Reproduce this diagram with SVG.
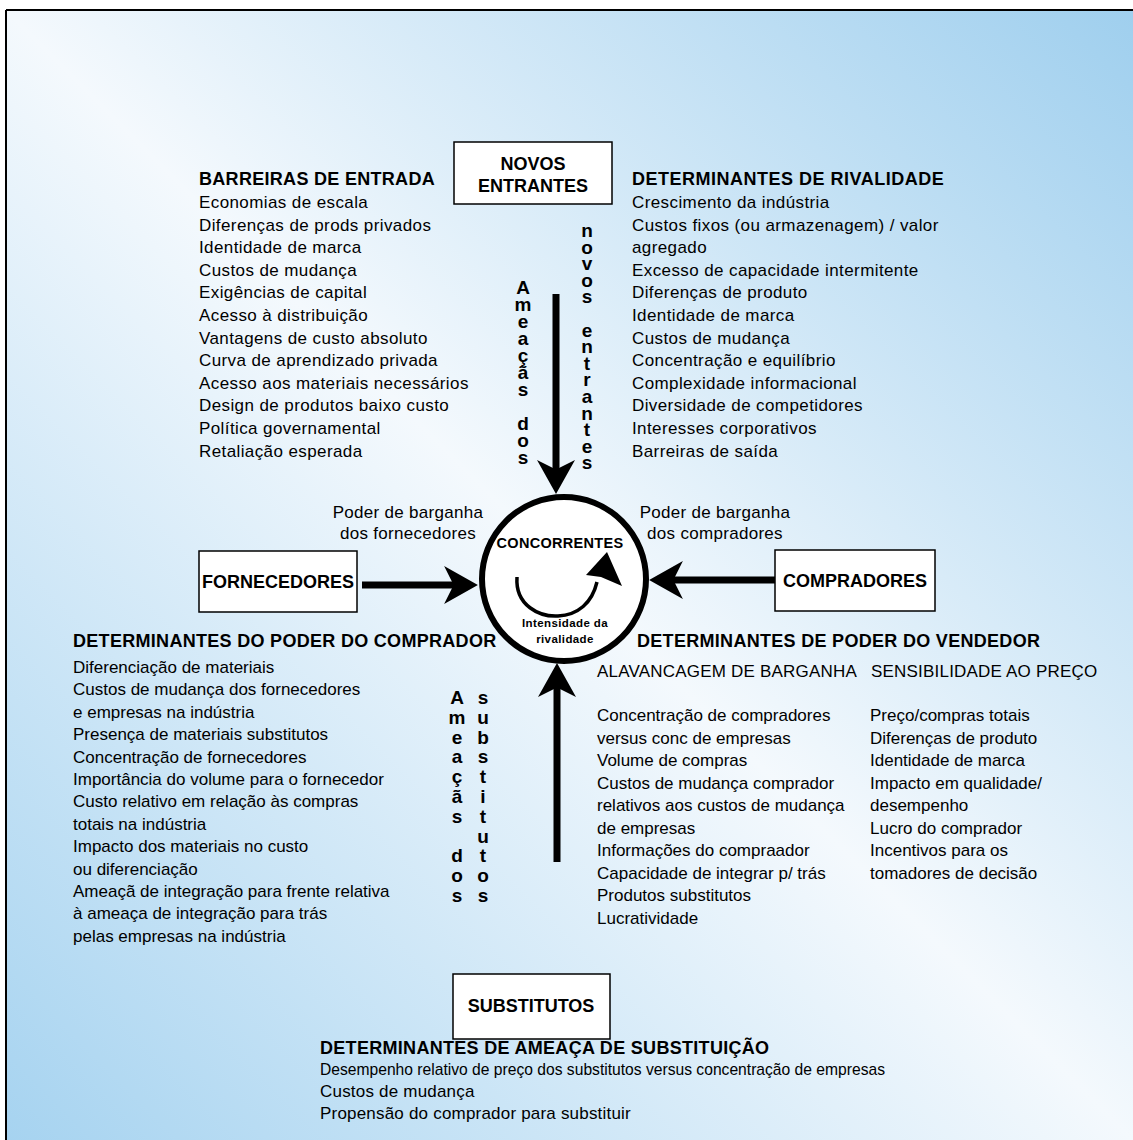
<svg xmlns="http://www.w3.org/2000/svg" width="1133" height="1140" viewBox="0 0 1133 1140">
<defs>
<linearGradient id="bg" x1="0" y1="1" x2="1" y2="0">
<stop offset="0" stop-color="#a6d3f0"/>
<stop offset="0.5" stop-color="#f4f9fd"/>
<stop offset="1" stop-color="#9fcfee"/>
</linearGradient>
<marker id="head" markerUnits="userSpaceOnUse" markerWidth="34" markerHeight="38" viewBox="0 0 32 36" refX="16" refY="18" orient="auto">
<path d="M0,0 L32,18 L0,36 L9,18 Z" fill="#000"/>
</marker>
<style>
.hd{font-family:"Liberation Sans",Arial,sans-serif;font-weight:bold;font-size:18px;letter-spacing:0.3px;fill:#000}
.tx{font-family:"Liberation Sans",Arial,sans-serif;font-size:17px;letter-spacing:0.2px;fill:#000}
.vt{font-family:"Liberation Sans",Arial,sans-serif;font-weight:bold;font-size:19px;writing-mode:vertical-rl;text-orientation:upright;fill:#000}
.bx{fill:#fff;stroke:#000;stroke-width:1.5}
.bt{font-family:"Liberation Sans",Arial,sans-serif;font-weight:bold;font-size:18px;text-anchor:middle;fill:#000}
.ctr{text-anchor:middle}
.arrow{fill:none;stroke:#000;stroke-width:7;marker-end:url(#head)}
</style>
</defs>

<g id="background">
<rect x="0" y="0" width="1133" height="1140" fill="#fff"/>
<rect x="6" y="10" width="1127" height="1130" fill="url(#bg)"/>
<path d="M6,10 H1133 M6,10 V1140" stroke="#000" stroke-width="2" fill="none"/>
</g>

<g id="connectors">
<path class="arrow" d="M556,294 V477"/>
<path class="arrow" d="M362,585 H461"/>
<path class="arrow" d="M775,580 H666"/>
<path class="arrow" d="M557,862 V680"/>
</g>

<g id="node-novos-entrantes">
<rect class="bx" x="454" y="142" width="158" height="62"/>
<text class="bt" x="533" y="170">NOVOS</text>
<text class="bt" x="533" y="192">ENTRANTES</text>
</g>

<g id="barreiras-entrada">
<text class="hd" x="199" y="185">BARREIRAS DE ENTRADA</text>
<text class="tx" x="199" y="208" style="letter-spacing:0.4px">
<tspan x="199" y="208">Economias de escala</tspan>
<tspan x="199" dy="22.6">Diferenças de prods privados</tspan>
<tspan x="199" dy="22.6">Identidade de marca</tspan>
<tspan x="199" dy="22.6">Custos de mudança</tspan>
<tspan x="199" dy="22.6">Exigências de capital</tspan>
<tspan x="199" dy="22.6">Acesso à distribuição</tspan>
<tspan x="199" dy="22.6">Vantagens de custo absoluto</tspan>
<tspan x="199" dy="22.6">Curva de aprendizado privada</tspan>
<tspan x="199" dy="22.6">Acesso aos materiais necessários</tspan>
<tspan x="199" dy="22.6">Design de produtos baixo custo</tspan>
<tspan x="199" dy="22.6">Política governamental</tspan>
<tspan x="199" dy="22.6">Retaliação esperada</tspan>
</text>
</g>

<g id="determinantes-rivalidade">
<text class="hd" x="632" y="185" style="letter-spacing:0.5px">DETERMINANTES DE RIVALIDADE</text>
<text class="tx" x="632" y="208" style="letter-spacing:0.4px">
<tspan x="632" y="208">Crescimento da indústria</tspan>
<tspan x="632" dy="22.6">Custos fixos (ou armazenagem) / valor</tspan>
<tspan x="632" dy="22.6">agregado</tspan>
<tspan x="632" dy="22.6">Excesso de capacidade intermitente</tspan>
<tspan x="632" dy="22.6">Diferenças de produto</tspan>
<tspan x="632" dy="22.6">Identidade de marca</tspan>
<tspan x="632" dy="22.6">Custos de mudança</tspan>
<tspan x="632" dy="22.6">Concentração e equilíbrio</tspan>
<tspan x="632" dy="22.6">Complexidade informacional</tspan>
<tspan x="632" dy="22.6">Diversidade de competidores</tspan>
<tspan x="632" dy="22.6">Interesses corporativos</tspan>
<tspan x="632" dy="22.6">Barreiras de saída</tspan>
</text>
</g>

<g id="label-ameacas-novos-entrantes">
<text class="vt" x="523" y="277" style="letter-spacing:-4px">Ameaçãs dos</text>
<text class="vt" x="587" y="220" style="letter-spacing:-4.4px">novos entrantes</text>
</g>

<g id="label-poder-fornecedores">
<text class="tx ctr" x="408" y="518" style="letter-spacing:0.3px">Poder de barganha</text>
<text class="tx ctr" x="408" y="539" style="letter-spacing:0.3px">dos fornecedores</text>
</g>

<g id="label-poder-compradores">
<text class="tx ctr" x="715" y="518" style="letter-spacing:0.3px">Poder de barganha</text>
<text class="tx ctr" x="715" y="539" style="letter-spacing:0.3px">dos compradores</text>
</g>

<g id="node-concorrentes">
<circle cx="564" cy="579" r="82" fill="#fff" stroke="#000" stroke-width="6"/>
<text class="bt" x="560" y="548" style="font-size:14.5px;letter-spacing:0.3px">CONCORRENTES</text>
<path d="M517,577 C515,606 540,617 558,616 C578,615 592,603 597,582" fill="none" stroke="#000" stroke-width="3.5"/>
<path d="M607,552 L622,586 L601,577 L586,575 Z" fill="#000"/>
<text class="bt" x="565" y="627" style="font-size:11.5px;letter-spacing:0.4px">Intensidade da</text>
<text class="bt" x="565" y="643" style="font-size:11.5px;letter-spacing:0.4px">rivalidade</text>
</g>

<g id="node-fornecedores">
<rect class="bx" x="199" y="551" width="158" height="61"/>
<text class="bt" x="278" y="588">FORNECEDORES</text>
</g>

<g id="node-compradores">
<rect class="bx" x="775" y="550" width="160" height="61"/>
<text class="bt" x="855" y="587">COMPRADORES</text>
</g>

<g id="determinantes-poder-comprador">
<text class="hd" x="73" y="647">DETERMINANTES DO PODER DO COMPRADOR</text>
<text class="tx" x="73" y="673" style="letter-spacing:0px">
<tspan x="73" y="673">Diferenciação de materiais</tspan>
<tspan x="73" dy="22.4">Custos de mudança dos fornecedores</tspan>
<tspan x="73" dy="22.4">e empresas na indústria</tspan>
<tspan x="73" dy="22.4">Presença de materiais substitutos</tspan>
<tspan x="73" dy="22.4">Concentração de fornecedores</tspan>
<tspan x="73" dy="22.4">Importância do volume para o fornecedor</tspan>
<tspan x="73" dy="22.4">Custo relativo em relação às compras</tspan>
<tspan x="73" dy="22.4">totais na indústria</tspan>
<tspan x="73" dy="22.4">Impacto dos materiais no custo</tspan>
<tspan x="73" dy="22.4">ou diferenciação</tspan>
<tspan x="73" dy="22.4">Ameaçã de integração para frente relativa</tspan>
<tspan x="73" dy="22.4">à ameaça de integração para trás</tspan>
<tspan x="73" dy="22.4">pelas empresas na indústria</tspan>
</text>
</g>

<g id="label-ameacas-substitutos">
<text class="vt" x="457" y="687" style="letter-spacing:-1.2px">Ameaçãs dos</text>
<text class="vt" x="483" y="687" style="letter-spacing:-1.2px">substitutos</text>
</g>

<g id="determinantes-poder-vendedor">
<text class="hd" x="637" y="647">DETERMINANTES DE PODER DO VENDEDOR</text>
<text class="tx" x="597" y="677">ALAVANCAGEM DE BARGANHA</text>
<text class="tx" x="871" y="677">SENSIBILIDADE AO PREÇO</text>
<text class="tx" x="597" y="721" style="letter-spacing:0px">
<tspan x="597" y="721">Concentração de compradores</tspan>
<tspan x="597" dy="22.5">versus conc de empresas</tspan>
<tspan x="597" dy="22.5">Volume de compras</tspan>
<tspan x="597" dy="22.5">Custos de mudança comprador</tspan>
<tspan x="597" dy="22.5">relativos aos custos de mudança</tspan>
<tspan x="597" dy="22.5">de empresas</tspan>
<tspan x="597" dy="22.5">Informações do compraador</tspan>
<tspan x="597" dy="22.5">Capacidade de integrar p/ trás</tspan>
<tspan x="597" dy="22.5">Produtos substitutos</tspan>
<tspan x="597" dy="22.5">Lucratividade</tspan>
</text>
<text class="tx" x="870" y="721" style="letter-spacing:0px">
<tspan x="870" y="721">Preço/compras totais</tspan>
<tspan x="870" dy="22.5">Diferenças de produto</tspan>
<tspan x="870" dy="22.5">Identidade de marca</tspan>
<tspan x="870" dy="22.5">Impacto em qualidade/</tspan>
<tspan x="870" dy="22.5">desempenho</tspan>
<tspan x="870" dy="22.5">Lucro do comprador</tspan>
<tspan x="870" dy="22.5">Incentivos para os</tspan>
<tspan x="870" dy="22.5">tomadores de decisão</tspan>
</text>
</g>

<g id="node-substitutos">
<rect class="bx" x="453" y="974" width="157" height="65"/>
<text class="bt" x="531" y="1012">SUBSTITUTOS</text>
</g>

<g id="determinantes-ameaca-substituicao">
<text class="hd" x="320" y="1054">DETERMINANTES DE AMEAÇA DE SUBSTITUIÇÃO</text>
<text class="tx" x="320" y="1075" textLength="565" lengthAdjust="spacingAndGlyphs" style="letter-spacing:0px">Desempenho relativo de preço dos substitutos versus concentração de empresas</text>
<text class="tx" x="320" y="1097">Custos de mudança</text>
<text class="tx" x="320" y="1119">Propensão do comprador para substituir</text>
</g>
</svg>
